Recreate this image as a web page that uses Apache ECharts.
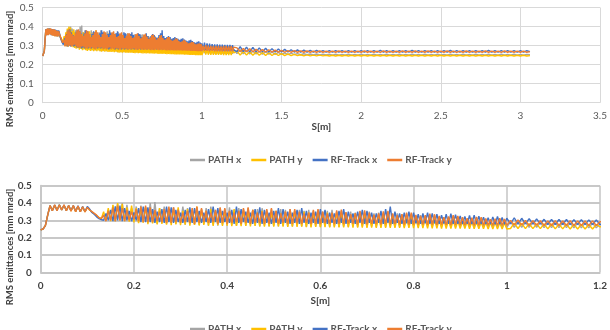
<!DOCTYPE html>
<html><head><meta charset="utf-8">
<script src="https://cdn.jsdelivr.net/npm/echarts@6/dist/echarts.min.js"></script>
<style>html,body{margin:0;padding:0;background:#fff}#c{width:610px;height:330px}</style>
</head><body><div id="c"></div>
<script>
// sample grid segments along S [m]: start, step, count
const segStart = [0, 1.008, 1.22];
const segStep = [0.005, 0.008, 0.02];
const segCount = [201, 25, 93];

const seriesNames = ['PATH x', 'PATH y', 'RF-Track x', 'RF-Track y'];
const topTicksX = [0, 0.5, 1, 1.5, 2, 2.5, 3, 3.5];
const bottomTicksX = [0, 0.2, 0.4, 0.6, 0.8, 1, 1.2];
const ticksY = [0, 0.1, 0.2, 0.3, 0.4, 0.5];

const pathX = [
.245,.25,.27,.33,.385,
.358,.385,.36,.388,.362,.387,.358,.385,.355,.383,.352,.38,.35,.378,.35,.376,
.362,.345,.335,.325,.315,.31,
.330,.300,.360,.300,.385,.295,.395,.300,.400,.300,
.390,.305,.370,.300,.380,.290,.385,.295,.375,.290,
.400,.285,.405,.280,.370,.285,.380,.280,.360,.285,
.375,.280,.365,.285,.380,.275,.370,.280,.360,.275,
.375,.275,.365,.280,.370,.270,.380,.275,.360,.270,
.370,.275,.365,.270,.375,.275,.360,.270,.370,.275,
.365,.270,.370,.275,.360,.270,.365,.265,.370,.270,
.360,.265,.365,.270,.355,.265,.365,.270,.360,.265,
.365,.265,.355,.270,.360,.265,.355,.262,.360,.265,
.355,.265,.360,.262,.350,.265,.355,.262,.360,.265,
.350,.262,.355,.265,.345,.262,.350,.265,.345,.262,
.350,.265,.345,.262,.350,.265,.340,.262,.345,.265,
.340,.262,.345,.265,.335,.263,.340,.262,.335,.263,
.330,.265,.335,.268,.325,.265,.330,.268,.322,.265,
.325,.265,.320,.265,.318,.264,.315,.265,.312,.264,
.310,.264,.308,.263,.306,.263,.305,.262,.303,.262,
.302,.262,.300,.262,.299,.261,.298,.261,.297,.260,
.296,.260,.295,.260,
.292,.260,.290,.260,.289,.259,.288,.259,.287,.258,.287,.258,.286,.258,.286,.258,.285,.257,.285,.257,.284,.257,.284,.257,.280,
.258,.278,.257,.275,.256,.272,.256,.270,.255,.268,
.255,.266,.254,.264,.254,.262,.253,.260,.253,.258,
.252,.257,.252,.256,.251,.256,.251,.255,.251,.255,
.250,.255,.250,.254,.250,.255,.250,.254,.250,.255,
.250,.254,.250,.255,.250,.254,.250,.255,.250,.254,
.250,.255,.250,.254,.250,.255,.250,.254,.250,.255,
.250,.254,.250,.255,.250,.254,.250,.255,.250,.254,
.250,.255,.250,.254,.250,.255,.250,.254,.250,.255,
.250,.254,.250,.255,.250,.254,.250,.255,.250,.254,
.250,.254,.252
];

const pathY = [
.245,.25,.27,.33,.385,
.356,.387,.358,.39,.36,.387,.356,.385,.354,.384,.35,.381,.35,.377,.348,.375,
.36,.348,.338,.328,.316,.31,
.350,.300,.370,.295,.390,.295,.400,.300,.395,.295,
.375,.292,.385,.288,.370,.284,.360,.286,.375,.278,
.365,.282,.355,.276,.370,.280,.360,.275,.365,.272,
.360,.276,.375,.272,.355,.275,.365,.270,.350,.274,
.380,.270,.360,.274,.355,.270,.365,.268,.350,.272,
.360,.268,.355,.270,.350,.266,.365,.268,.345,.266,
.355,.268,.350,.265,.360,.268,.345,.265,.355,.263,
.350,.265,.345,.263,.355,.265,.340,.263,.350,.262,
.345,.263,.355,.262,.340,.263,.350,.261,.345,.260,
.340,.262,.350,.260,.335,.261,.345,.260,.340,.259,
.345,.260,.335,.259,.340,.260,.330,.258,.340,.258,
.330,.258,.335,.257,.325,.258,.330,.257,.325,.256,
.330,.257,.320,.256,.325,.257,.318,.256,.320,.255,
.315,.256,.318,.255,.312,.255,.315,.255,.310,.254,
.312,.254,.308,.254,.306,.253,.305,.253,.303,.253,
.300,.252,.298,.252,.296,.252,.295,.251,.293,.251,
.292,.251,.290,.251,.289,.250,.288,.250,.287,.250,
.286,.250,.285,.250,
.253,.284,.253,.282,.252,.281,.252,.280,.252,.279,.251,.279,.251,.278,.251,.278,.250,.277,.250,.277,.250,.276,.250,.276,.262,
.272,.250,.270,.250,.268,.249,.266,.249,.264,.248,
.262,.248,.260,.248,.258,.247,.256,.247,.254,.247,
.252,.246,.251,.246,.250,.246,.250,.246,.249,.245,
.249,.245,.249,.245,.249,.245,.249,.245,.249,.245,
.249,.245,.249,.245,.249,.245,.249,.245,.249,.245,
.249,.245,.249,.245,.249,.245,.249,.245,.249,.245,
.249,.245,.249,.245,.249,.245,.249,.245,.249,.245,
.249,.245,.249,.245,.249,.245,.249,.245,.249,.245,
.249,.245,.249,.245,.249,.245,.249,.245,.249,.245,
.249,.245,.247
];

const rfTrackX = [
.245,.25,.27,.33,.385,
.355,.388,.357,.39,.36,.388,.355,.386,.355,.385,.352,.384,.35,.38,.35,.38,
.365,.345,.335,.32,.31,.305,
.300,.340,.300,.360,.295,.380,.300,.385,.295,.370,
.300,.355,.295,.345,.300,.370,.290,.380,.290,.375,
.290,.365,.285,.350,.290,.365,.285,.380,.290,.375,
.285,.360,.290,.345,.285,.360,.290,.375,.285,.370,
.290,.355,.285,.345,.290,.365,.285,.380,.290,.370,
.285,.355,.290,.345,.285,.360,.280,.380,.285,.365,
.290,.350,.285,.345,.280,.365,.285,.375,.280,.360,
.285,.345,.280,.355,.285,.370,.280,.365,.285,.350,
.280,.345,.285,.360,.280,.370,.285,.355,.280,.345,
.285,.350,.280,.365,.285,.360,.280,.345,.285,.340,
.280,.355,.285,.365,.280,.350,.285,.340,.280,.350,
.285,.360,.280,.355,.285,.345,.280,.340,.285,.355,
.280,.365,.285,.380,.280,.350,.285,.340,.280,.345,
.283,.350,.280,.345,.283,.335,.280,.340,.282,.345,
.280,.340,.282,.335,.280,.330,.282,.335,.280,.338,
.280,.332,.280,.326,.279,.322,.280,.328,.278,.330,
.279,.324,.278,.318,.279,.315,.278,.320,.277,.322,
.278,.316,.277,.312,
.280,.315,.278,.312,.280,.310,.278,.308,.278,.306,.276,.306,.276,.305,.276,.305,.275,.304,.275,.304,.275,.303,.275,.302,.276,
.268,.295,.268,.292,.267,.290,.267,.288,.267,.286,
.266,.284,.266,.282,.266,.280,.266,.278,.266,.277,
.266,.276,.266,.275,.266,.275,.266,.274,.266,.274,
.266,.274,.266,.273,.266,.274,.266,.273,.266,.274,
.266,.273,.266,.274,.266,.275,.266,.273,.266,.274,
.266,.274,.266,.273,.266,.275,.266,.274,.266,.273,
.266,.274,.266,.273,.266,.274,.266,.275,.266,.273,
.266,.274,.266,.273,.266,.274,.266,.273,.266,.275,
.266,.274,.266,.273,.266,.274,.266,.273,.266,.274,
.266,.273,.268
];

const rfTrackY = [
.245,.25,.27,.33,.385,
.355,.39,.355,.388,.36,.39,.355,.385,.352,.386,.35,.382,.35,.378,.348,.375,
.36,.35,.34,.33,.315,.31,
.330,.295,.355,.300,.375,.295,.385,.300,.370,.295,
.360,.300,.350,.305,.365,.295,.380,.290,.385,.290,
.375,.290,.360,.295,.350,.290,.365,.285,.380,.285,
.375,.290,.360,.285,.345,.290,.355,.285,.370,.280,
.380,.285,.370,.290,.355,.285,.345,.290,.360,.280,
.375,.285,.370,.280,.355,.285,.345,.290,.355,.280,
.370,.285,.375,.280,.360,.285,.345,.285,.350,.280,
.365,.280,.370,.285,.355,.280,.340,.285,.350,.280,
.365,.280,.365,.282,.350,.280,.340,.285,.345,.278,
.360,.280,.365,.278,.350,.282,.338,.280,.345,.278,
.358,.280,.362,.278,.348,.280,.335,.280,.342,.276,
.355,.278,.358,.276,.345,.280,.332,.278,.340,.276,
.352,.278,.355,.276,.340,.278,.330,.276,.335,.275,
.345,.276,.345,.275,.332,.276,.325,.275,.330,.274,
.338,.275,.335,.274,.325,.275,.318,.274,.322,.273,
.330,.274,.326,.273,.318,.273,.312,.273,.315,.272,
.320,.272,.318,.272,.310,.272,.306,.271,.310,.271,
.312,.271,.308,.271,
.300,.272,.302,.272,.300,.270,.298,.272,.298,.270,.297,.270,.298,.270,.296,.270,.298,.270,.297,.270,.296,.270,.297,.270,.292,
.288,.268,.285,.268,.283,.267,.281,.267,.279,.266,
.278,.266,.276,.266,.275,.265,.274,.265,.273,.265,
.272,.265,.272,.265,.271,.265,.272,.265,.271,.265,
.271,.265,.272,.265,.271,.265,.271,.265,.271,.265,
.272,.265,.271,.265,.271,.264,.272,.265,.271,.265,
.271,.265,.272,.265,.271,.265,.272,.264,.271,.265,
.272,.265,.271,.265,.271,.265,.272,.265,.271,.264,
.271,.265,.272,.265,.271,.265,.271,.265,.272,.265,
.271,.265,.271,.264,.272,.265,.271,.265,.271,.265,
.271,.265,.268
];

const colors = ['#A5A5A5', '#FFC000', '#4472C4', '#ED7D31'];

// build S positions
const sPos = [];
for (let k = 0; k < segStart.length; k++) {
  for (let i = 0; i < segCount[k]; i++) sPos.push(+(segStart[k] + i * segStep[k]).toFixed(4));
}
const allY = [pathX, pathY, rfTrackX, rfTrackY];
function pairs(ys) { return ys.map((v, i) => [sPos[i], v]).filter(p => p[0] !== undefined); }

const FONT = 'Lato, "Open Sans", sans-serif';
const chart = echarts.init(document.getElementById('c'), null, {renderer: 'canvas'});

function mkX(idx, max, ticks, bold, color, gridColor, gridW, nameGap) {
  return {
    type: 'value', gridIndex: idx, min: 0, max: max, interval: ticks[1] - ticks[0],
    name: 'S[m]', nameLocation: 'middle', nameGap: nameGap,
    nameTextStyle: {fontFamily: FONT, fontWeight: 'bold', fontSize: 10, color: '#404040'},
    axisLine: {show: true, lineStyle: {color: gridColor, width: gridW}},
    axisTick: {show: false},
    axisLabel: {fontFamily: FONT, fontSize: 10, fontWeight: bold ? 'bold' : 'normal', color: color, margin: 8,
      formatter: v => String(+v.toFixed(2))},
    splitLine: {show: true, lineStyle: {color: gridColor, width: gridW}}
  };
}
function mkY(idx, bold, color, gridColor, gridW) {
  return {
    type: 'value', gridIndex: idx, min: 0, max: 0.5, interval: ticksY[1] - ticksY[0],
    axisLine: {show: true, lineStyle: {color: gridColor, width: gridW}},
    axisTick: {show: false},
    axisLabel: {fontFamily: FONT, fontSize: 10, fontWeight: bold ? 'bold' : 'normal', color: color, margin: 9,
      formatter: v => String(+v.toFixed(2))},
    splitLine: {show: true, lineStyle: {color: gridColor, width: gridW}}
  };
}

const series = [];
[0, 1].forEach(g => {
  seriesNames.forEach((nm, k) => {
    series.push({
      name: nm, type: 'line', xAxisIndex: g, yAxisIndex: g,
      data: pairs(allY[k]), symbol: 'none', showSymbol: false,
      lineStyle: {color: colors[k], width: 1.4}, itemStyle: {color: colors[k]},
      clip: true, animation: false
    });
  });
});

const legendBase = {
  data: seriesNames, left: 185, icon: 'rect', itemWidth: 15, itemHeight: 2.5, itemGap: 10,
  textStyle: {fontFamily: FONT, fontSize: 10, fontWeight: 'bold', color: '#595959', padding: [0, 0, 0, -2]}
};

chart.setOption({
  animation: false,
  color: colors,
  grid: [
    {left: 42.7, top: 7.5, width: 560, height: 95.2},
    {left: 40.7, top: 185.7, width: 561, height: 86.6}
  ],
  xAxis: [
    mkX(0, 3.5, topTicksX, false, '#595959', '#d9d9d9', 1, 19),
    mkX(1, 1.2, bottomTicksX, true, '#404040', '#c4c4c4', 1.5, 23)
  ],
  yAxis: [
    mkY(0, false, '#595959', '#d9d9d9', 1),
    mkY(1, true, '#404040', '#c8c8c8', 2)
  ],
  legend: [
    Object.assign({}, legendBase, {top: 150}),
    Object.assign({}, legendBase, {top: 319})
  ],
  graphic: [
    {type: 'text', x: 10, y: 69, rotation: Math.PI / 2,
      style: {text: 'RMS emittances [mm mrad]', fontFamily: FONT, fontSize: 9.5, fontWeight: 'bold', fill: '#404040', align: 'center', verticalAlign: 'middle'}},
    {type: 'text', x: 10, y: 247, rotation: Math.PI / 2,
      style: {text: 'RMS emittances [mm mrad]', fontFamily: FONT, fontSize: 9.5, fontWeight: 'bold', fill: '#404040', align: 'center', verticalAlign: 'middle'}}
  ],
  series: series
});
</script></body></html>
